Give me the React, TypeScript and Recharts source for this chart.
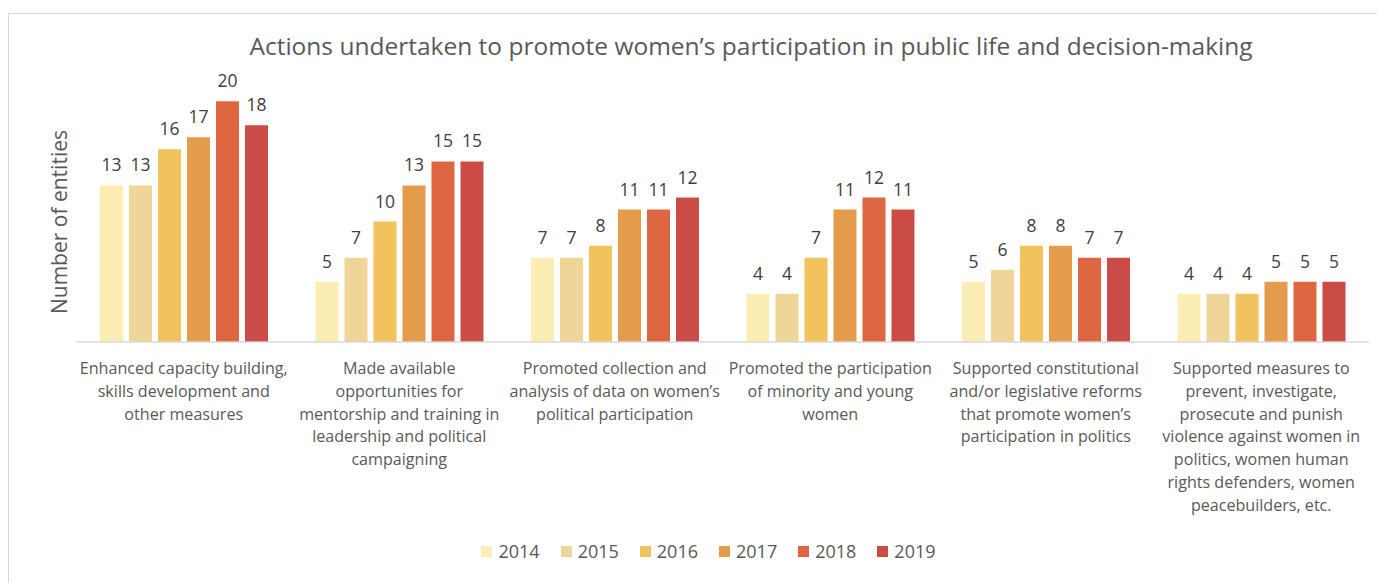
import React from "react";
import { BarChart, Bar, XAxis, YAxis, Legend, LabelList } from "recharts";

const categories = [
  "Enhanced capacity building,\nskills development and\nother measures",
  "Made available\nopportunities for\nmentorship and training in\nleadership and political\ncampaigning",
  "Promoted collection and\nanalysis of data on women’s\npolitical participation",
  "Promoted the participation\nof minority and young\nwomen",
  "Supported constitutional\nand/or legislative reforms\nthat promote women’s\nparticipation in politics",
  "Supported measures to\nprevent, investigate,\nprosecute and punish\nviolence against women in\npolitics, women human\nrights defenders, women\npeacebuilders, etc.",
];

const years = ["2014", "2015", "2016", "2017", "2018", "2019"];

const v2014 = [13, 5, 7, 4, 5, 4];
const v2015 = [13, 7, 7, 4, 6, 4];
const v2016 = [16, 10, 8, 7, 8, 4];
const v2017 = [17, 13, 11, 11, 8, 5];
const v2018 = [20, 15, 11, 12, 7, 5];
const v2019 = [18, 15, 12, 11, 7, 5];

const COLORS = ["#FCEDB4", "#EFD598", "#F2C25C", "#E49B4B", "#DE6640", "#CB4B46"];
const FONT = "'Open Sans', sans-serif";

const series = [v2014, v2015, v2016, v2017, v2018, v2019];
const data = categories.map((name, i) => {
  const row: Record<string, string | number> = { name };
  years.forEach((y, j) => {
    row[y] = series[j][i];
  });
  return row;
});

function CategoryTick(props: any) {
  const { x, y, payload } = props;
  const lines = String(payload.value).split("\n");
  return (
    <g transform={`translate(${x},${y})`}>
      {lines.map((line, i) => (
        <text
          key={i}
          x={0}
          y={24 + i * 22.8}
          textAnchor="middle"
          fill="#595959"
          fontSize={16.1}
          fontFamily={FONT}
        >
          {line}
        </text>
      ))}
    </g>
  );
}

function LegendContent() {
  return (
    <div
      style={{
        height: 24,
        display: "flex",
        justifyContent: "center",
        alignItems: "center",
        fontFamily: FONT,
        fontSize: 18,
        color: "#595959",
        paddingRight: 28,
      }}
    >
      {years.map((y, i) => (
        <span key={y} style={{ display: "flex", alignItems: "center", margin: "0 10.5px" }}>
          <span style={{ width: 11, height: 11, background: COLORS[i], marginRight: 6 }} />
          {y}
        </span>
      ))}
    </div>
  );
}

export default function App() {
  return (
    <div
      style={{
        position: "relative",
        marginTop: 5,
        width: 1377,
        height: 570,
        borderTop: "1px solid #D9D9D9",
        borderLeft: "1px solid #D9D9D9",
        boxSizing: "border-box",
        fontFamily: FONT,
      }}
    >
      <div
        style={{
          position: "absolute",
          top: 15,
          left: 0,
          width: 1484,
          textAlign: "center",
          fontSize: 24.5,
          color: "#595959",
          whiteSpace: "nowrap",
        }}
      >
        Actions undertaken to promote women’s participation in public life and decision-making
      </div>
      <div
        style={{
          position: "absolute",
          left: 58 - 8 - 110,
          top: 221 - 13 - 14,
          width: 220,
          height: 28,
          lineHeight: "28px",
          textAlign: "center",
          fontSize: 21,
          color: "#595959",
          transform: "rotate(-90deg)",
          whiteSpace: "nowrap",
        }}
      >
        Number of entities
      </div>
      <BarChart
        width={1377}
        height={570}
        data={data}
        margin={{ top: 28, right: 16, left: 68, bottom: 20 }}
        barCategoryGap={24}
        barGap={6}
        style={{ position: "absolute", left: -1, top: -1 }}
      >
        <XAxis
          dataKey="name"
          height={197}
          interval={0}
          tickLine={false}
          axisLine={{ stroke: "#D9D9D9", strokeWidth: 1.5 }}
          tick={<CategoryTick />}
        />
        <YAxis hide domain={[0, 25]} />
        <Legend verticalAlign="bottom" content={<LegendContent />} />
        {years.map((y, i) => (
          <Bar key={y} dataKey={y} fill={COLORS[i]} isAnimationActive={false}>
            <LabelList
              dataKey={y}
              position="top"
              offset={14}
              fill="#404040"
              fontSize={17.5}
              fontFamily={FONT}
            />
          </Bar>
        ))}
      </BarChart>
    </div>
  );
}
